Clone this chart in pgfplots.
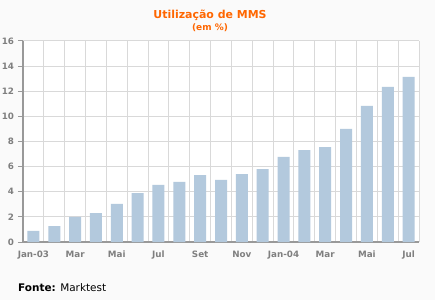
\documentclass[border=0pt]{standalone}
\usepackage{pgfplots}
\pgfplotsset{compat=1.18}
\usepackage{fontspec}
\setmainfont{DejaVu Sans}
\definecolor{bg}{HTML}{FAFAFA}
\definecolor{bar}{HTML}{B3C9DD}
\definecolor{gridc}{HTML}{D9D9D9}
\definecolor{axisc}{HTML}{999999}
\definecolor{tickc}{HTML}{7F7F7F}
\definecolor{titlec}{HTML}{FF6600}
\begin{document}
\begin{tikzpicture}[x=1bp,y=1bp]
\fill[bg] (0,0) rectangle (435,300);
\useasboundingbox (0,0) rectangle (435,300);
\fill[white] (23,58) rectangle (419,259);
\begin{axis}[
  at={(23bp,58bp)}, anchor=south west,
  scale only axis, width=396bp, height=201bp,
  xmin=-0.5, xmax=18.5, ymin=0, ymax=16,
  axis x line*=bottom, axis y line*=left,
  axis line style={axisc, line width=1.3bp, -},
  xtick={0,2,...,18},
  xticklabels={Jan-03,Mar,Mai,Jul,Set,Nov,Jan-04,Mar,Mai,Jul},
  minor xtick={-0.5,0.5,...,18.5},
  ytick={0,2,...,16},
  xmajorgrids=false, xminorgrids=true, ymajorgrids=true,
  grid style={gridc, line width=1bp},
  minor grid style={gridc, line width=1bp},
  tick align=outside,
  major tick length=5bp, minor tick length=4bp,
  xtick style={draw=none},
  ytick style={axisc, line width=1bp},
  minor x tick style={axisc, line width=1bp},
  ticklabel style={font=\fontsize{8.8}{10}\selectfont\bfseries, text=tickc},
  /pgf/number format/assume math mode=true,
  xticklabel style={yshift=-0.5bp},
  yticklabel style={xshift=-0.5bp},
  ybar, bar width=12bp, bar shift=0pt,
]
\addplot[fill=bar, draw=none] coordinates {
(0,0.88) (1,1.27) (2,2.0) (3,2.3) (4,3.03) (5,3.9) (6,4.54) (7,4.78) (8,5.33)
(9,4.94) (10,5.41) (11,5.81) (12,6.77) (13,7.32) (14,7.56) (15,9.0) (16,10.83)
(17,12.34) (18,13.14)};
\end{axis}
\node[text=titlec, font=\fontsize{11}{13}\selectfont\bfseries] at (210,285) {Utilização de MMS};
\node[text=titlec, font=\fontsize{9}{11}\selectfont\bfseries] at (210,272) {(em \%)};
\node[anchor=base west, font=\fontsize{10.5}{12}\selectfont, inner sep=0pt] at (18,8.5) {\textbf{Fonte:} Marktest};
\end{tikzpicture}
\end{document}
